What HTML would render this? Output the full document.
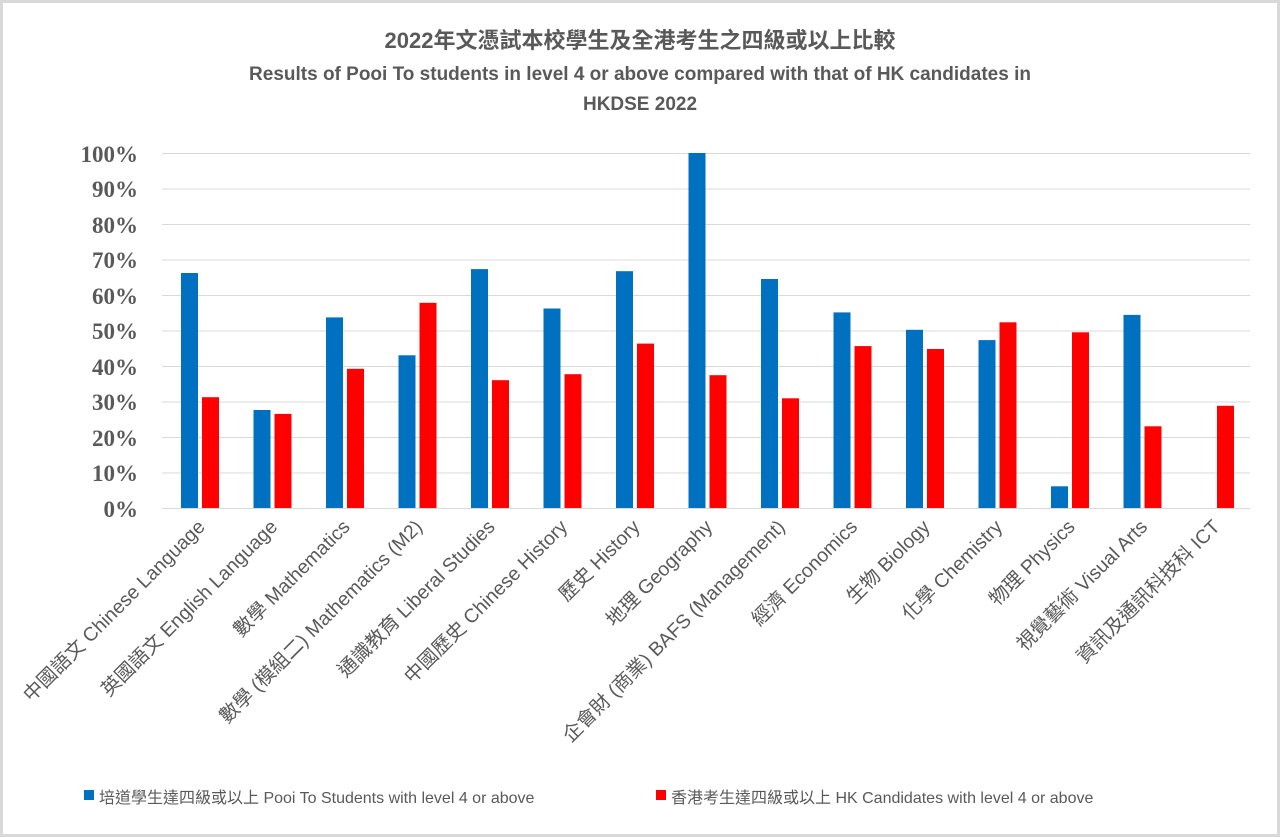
<!DOCTYPE html>
<html><head><meta charset="utf-8"><style>
body{margin:0;background:#fff}
svg{display:block}
text{font-family:"Liberation Sans","Noto Sans CJK TC",sans-serif;fill:#595959}
text.ser{font-family:"Liberation Serif",serif}
</style></head><body>
<svg width="1280" height="837" xmlns="http://www.w3.org/2000/svg">
<rect x="1.5" y="1.5" width="1277" height="834" fill="#fff" stroke="#d9d9d9" stroke-width="3"/>
<text x="640" y="48" text-anchor="middle" font-size="22" font-weight="bold">2022年文憑試本校學生及全港考生之四級或以上比較</text>
<text x="640" y="80" text-anchor="middle" font-size="19" font-weight="bold">Results of Pooi To students in level 4 or above compared with that of HK candidates in</text>
<text x="640" y="110" text-anchor="middle" font-size="19" font-weight="bold">HKDSE 2022</text>
<g stroke="#d9d9d9" stroke-width="1">
<line x1="162" x2="1250" y1="153.5" y2="153.5"/><line x1="162" x2="1250" y1="189" y2="189"/>
<line x1="162" x2="1250" y1="224.5" y2="224.5"/><line x1="162" x2="1250" y1="260" y2="260"/>
<line x1="162" x2="1250" y1="295.5" y2="295.5"/><line x1="162" x2="1250" y1="331" y2="331"/>
<line x1="162" x2="1250" y1="366.5" y2="366.5"/><line x1="162" x2="1250" y1="402" y2="402"/>
<line x1="162" x2="1250" y1="437.5" y2="437.5"/><line x1="162" x2="1250" y1="473" y2="473"/>
<line x1="162" x2="1250" y1="508.5" y2="508.5"/>
</g>
<g font-size="23" font-weight="bold" text-anchor="end">
<text class="ser" x="138" y="162">100%</text><text class="ser" x="138" y="197">90%</text><text class="ser" x="138" y="233">80%</text>
<text class="ser" x="138" y="268">70%</text><text class="ser" x="138" y="304">60%</text><text class="ser" x="138" y="339">50%</text>
<text class="ser" x="138" y="375">40%</text><text class="ser" x="138" y="410">30%</text><text class="ser" x="138" y="446">20%</text>
<text class="ser" x="138" y="481">10%</text><text class="ser" x="138" y="517">0%</text>
</g>
<g fill="#0070c0">
<rect x="181" y="273" width="17" height="235"/>
<rect x="253.5" y="410" width="17" height="98"/>
<rect x="326" y="317.4" width="17" height="190.6"/>
<rect x="398.5" y="355.3" width="17" height="152.7"/>
<rect x="471" y="269.1" width="17" height="238.9"/>
<rect x="543.5" y="308.5" width="17" height="199.5"/>
<rect x="616" y="271.2" width="17" height="236.8"/>
<rect x="688.5" y="153" width="17" height="355"/>
<rect x="761" y="279" width="17" height="229"/>
<rect x="833.5" y="312.4" width="17" height="195.6"/>
<rect x="906" y="329.8" width="17" height="178.2"/>
<rect x="978.5" y="340.1" width="17" height="167.9"/>
<rect x="1051" y="486.3" width="17" height="21.7"/>
<rect x="1123.5" y="314.9" width="17" height="193.1"/>
</g>
<g fill="#ff0000">
<rect x="202" y="397.2" width="17" height="110.8"/>
<rect x="274.5" y="413.9" width="17" height="94.1"/>
<rect x="347" y="368.8" width="17" height="139.2"/>
<rect x="419.5" y="302.8" width="17" height="205.2"/>
<rect x="492" y="380.2" width="17" height="127.8"/>
<rect x="564.5" y="374.2" width="17" height="133.8"/>
<rect x="637" y="343.6" width="17" height="164.4"/>
<rect x="709.5" y="375.2" width="17" height="132.8"/>
<rect x="782" y="398.3" width="17" height="109.7"/>
<rect x="854.5" y="346.1" width="17" height="161.9"/>
<rect x="927" y="349" width="17" height="159"/>
<rect x="999.5" y="322.3" width="17" height="185.7"/>
<rect x="1072" y="332.3" width="17" height="175.7"/>
<rect x="1144.5" y="426.3" width="17" height="81.7"/>
<rect x="1217" y="405.8" width="17" height="102.2"/>
</g>
<g font-size="19.5" text-anchor="end">
<text transform="translate(206,528) rotate(-45)">中國語文 Chinese Language</text>
<text transform="translate(278.5,528) rotate(-45)">英國語文 English Language</text>
<text transform="translate(351,528) rotate(-45)">數學 Mathematics</text>
<text transform="translate(423.5,528) rotate(-45)">數學 (模組二) Mathematics (M2)</text>
<text transform="translate(496,528) rotate(-45)">通識教育 Liberal Studies</text>
<text transform="translate(568.5,528) rotate(-45)">中國歷史 Chinese History</text>
<text transform="translate(641,528) rotate(-45)">歷史 History</text>
<text transform="translate(713.5,528) rotate(-45)">地理 Geography</text>
<text transform="translate(786,528) rotate(-45)">企會財 (商業) BAFS (Management)</text>
<text transform="translate(858.5,528) rotate(-45)">經濟 Economics</text>
<text transform="translate(931,528) rotate(-45)">生物 Biology</text>
<text transform="translate(1003.5,528) rotate(-45)">化學 Chemistry</text>
<text transform="translate(1076,528) rotate(-45)">物理 Physics</text>
<text transform="translate(1148.5,528) rotate(-45)">視覺藝術 Visual Arts</text>
<text transform="translate(1221,528) rotate(-45)">資訊及通訊科技科 ICT</text>
</g>
<rect x="84" y="790" width="10" height="10" fill="#0070c0"/>
<text x="99" y="803" font-size="16">培道學生達四級或以上 Pooi To Students with level 4 or above</text>
<rect x="656" y="790" width="10" height="10" fill="#ff0000"/>
<text x="671" y="803" font-size="16">香港考生達四級或以上 HK Candidates with level 4 or above</text>
</svg>
</body></html>
